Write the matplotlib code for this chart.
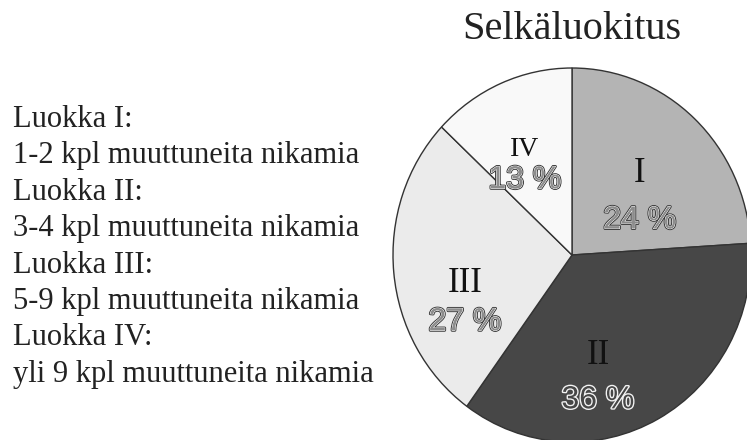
import matplotlib
matplotlib.use("Agg")
import matplotlib.pyplot as plt
import matplotlib.patheffects as pe
import numpy as np

# data
classes = ["I", "II", "III", "IV"]
shares = [24, 36, 27, 13]
colors = ["#b4b4b4", "#474747", "#ebebeb", "#f9f9f9"]
legend_lines = [
    "Luokka I:",
    "1-2 kpl muuttuneita nikamia",
    "Luokka II:",
    "3-4 kpl muuttuneita nikamia",
    "Luokka III:",
    "5-9 kpl muuttuneita nikamia",
    "Luokka IV:",
    "yli 9 kpl muuttuneita nikamia",
]

W, H = 747, 440
fig = plt.figure(figsize=(W / 100, H / 100), dpi=100)

# pie axes: centre (572, 255) px, slightly taller than wide
cx, cy, rx, ry = 572, 255, 179, 187
ax = fig.add_axes([(cx - rx) / W, (H - cy - ry) / H, 2 * rx / W, 2 * ry / H])
wedges, _ = ax.pie(shares, colors=colors, startangle=90, counterclock=False,
                   wedgeprops=dict(edgecolor="#333333", linewidth=1.0))
ax.set_xlim(-1, 1)
ax.set_ylim(-1, 1)
ax.set_aspect("auto")
ax.axis("off")

# label placement: small nudges on the slice mid-angle
ang_nudge = [-7.5, -16.4, 17.8, 5.3]
rad = [0.49, 0.674, 0.65, 0.548]
sep = [17, 16, 14, 11]
num_size = [25, 25, 25, 20]
pct_fill = ["#8c8c8c", "#474747", "#8c8c8c", "#8c8c8c"]
pct_edge = ["#333333", "#eeeeee", "#333333", "#333333"]

for i, w in enumerate(wedges):
    a = np.deg2rad((w.theta1 + w.theta2) / 2 + ang_nudge[i])
    x, y = rad[i] * np.cos(a), rad[i] * np.sin(a)
    ax.annotate(classes[i], (x, y), xytext=(0, sep[i]), textcoords="offset points",
                ha="center", va="center", fontsize=num_size[i],
                family="Liberation Serif", color="#111111")
    ax.annotate(f"{shares[i]} %", (x, y), xytext=(0, -sep[i]), textcoords="offset points",
                ha="center", va="center", fontsize=23,
                family="Liberation Sans", color=pct_fill[i],
                path_effects=[pe.Stroke(linewidth=2.0, foreground=pct_edge[i]),
                              pe.Stroke(linewidth=0.7, foreground="white"),
                              pe.Normal()])

fig.text(cx / W, 1 - 39 / H, "Selkäluokitus", ha="center", va="baseline",
         fontsize=29, family="Liberation Serif", color="#222222")

for i, line in enumerate(legend_lines):
    fig.text(13 / W, 1 - (127 + 36.4 * i) / H, line, ha="left", va="baseline",
             fontsize=22, family="Liberation Serif", color="#222222")

fig.savefig("out.png", dpi=100, facecolor="white")
